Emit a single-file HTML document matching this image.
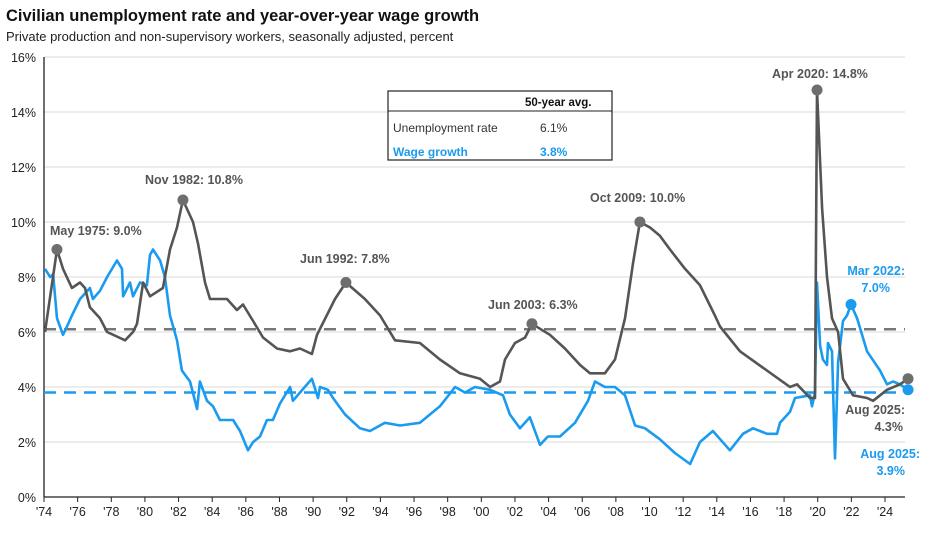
<!DOCTYPE html>
<html><head><meta charset="utf-8"><style>
body{margin:0;background:#fff;font-family:"Liberation Sans",Arial,sans-serif;}
svg text{font-family:"Liberation Sans",Arial,sans-serif;}
</style></head><body>
<svg id="chart" width="936" height="538" viewBox="0 0 936 538" xmlns="http://www.w3.org/2000/svg">
<text x="6" y="21" font-size="16.5" font-weight="bold" fill="#111">Civilian unemployment rate and year-over-year wage growth</text>
<text x="6" y="41" font-size="13" fill="#222">Private production and non-supervisory workers, seasonally adjusted, percent</text>
<g id="grid"></g><g id="axes"></g><g id="series"></g><g id="annot"></g>
<g>
<rect x="388" y="91" width="224" height="69" fill="#fff" stroke="#222" stroke-width="1.2"/>
<text x="525" y="106" font-size="11.5" font-weight="bold" fill="#111">50-year avg.</text>
<line x1="388" y1="111" x2="612" y2="111" stroke="#222" stroke-width="1"/>
<text x="393" y="132" font-size="12" fill="#333">Unemployment rate</text>
<text x="540" y="132" font-size="12" fill="#333">6.1%</text>
<text x="393" y="156" font-size="12" font-weight="bold" fill="#1a9bf0">Wage growth</text>
<text x="540" y="156" font-size="12" font-weight="bold" fill="#1a9bf0">3.8%</text>
</g>
</svg>
<script>
const yTicks=[0,2,4,6,8,10,12,14,16];
const xTickLabels=["'74","'76","'78","'80","'82","'84","'86","'88","'90","'92","'94","'96","'98","'00","'02","'04","'06","'08","'10","'12","'14","'16","'18","'20","'22","'24"];
const unempDates=[1974.06,1974.77,1975.13,1975.66,1976.14,1976.44,1976.73,1977.33,1977.75,1978.82,1979.29,1979.53,1979.89,1980.30,1981.07,1981.49,1981.91,1982.26,1982.86,1983.16,1983.57,1983.87,1984.88,1985.47,1985.83,1986.43,1987.02,1987.85,1988.63,1989.22,1989.93,1990.23,1991.30,1991.95,1993.08,1993.98,1994.87,1996.35,1997.54,1998.73,1999.92,2000.52,2001.11,2001.41,2002.00,2002.60,2003.01,2004.08,2004.97,2005.87,2006.46,2007.35,2007.95,2008.54,2009.02,2009.43,2010.03,2010.62,2011.22,2012.11,2013.00,2013.89,2014.19,2015.38,2016.98,2018.35,2018.77,2019.54,2019.84,2019.96,2020.26,2020.55,2020.85,2021.21,2021.50,2022.10,2022.93,2023.29,2024.12,2024.89,2025.37];
const unempValues=[6.0,9.0,8.3,7.6,7.8,7.6,6.9,6.5,6.0,5.7,6.0,6.3,7.8,7.3,7.6,9.0,9.8,10.8,10.0,9.2,7.8,7.2,7.2,6.8,7.0,6.4,5.8,5.4,5.3,5.4,5.2,5.9,7.2,7.8,7.2,6.6,5.7,5.6,5.0,4.5,4.3,4.0,4.2,5.0,5.6,5.8,6.3,5.9,5.4,4.8,4.5,4.5,5.0,6.5,8.5,10.0,9.8,9.5,9.0,8.3,7.7,6.6,6.2,5.3,4.6,4.0,4.1,3.6,3.6,14.8,10.5,8.0,6.5,6.0,4.3,3.7,3.6,3.5,3.9,4.1,4.3];
const wageDates=[1974.06,1974.36,1974.54,1974.77,1975.13,1975.37,1975.66,1976.14,1976.73,1976.91,1977.33,1977.75,1978.34,1978.64,1978.70,1979.11,1979.29,1979.71,1980.12,1980.30,1980.48,1980.90,1981.19,1981.49,1981.91,1982.20,1982.68,1983.10,1983.27,1983.69,1984.05,1984.46,1985.24,1985.65,1986.13,1986.43,1986.84,1987.26,1987.61,1988.03,1988.63,1988.80,1989.22,1989.93,1990.29,1990.41,1990.88,1991.18,1991.90,1992.79,1993.38,1994.27,1995.17,1996.35,1997.54,1998.44,1999.03,1999.62,2000.52,2001.29,2001.70,2002.30,2002.89,2003.49,2003.96,2004.68,2005.57,2006.34,2006.76,2007.35,2007.95,2008.54,2009.14,2009.73,2010.62,2011.51,2012.41,2013.00,2013.77,2014.78,2015.56,2016.15,2016.99,2017.58,2017.76,2018.35,2018.65,2019.54,2019.66,2019.84,2019.96,2020.14,2020.31,2020.55,2020.61,2020.85,2021.03,2021.21,2021.50,2021.74,2021.98,2022.34,2022.93,2023.70,2024.12,2024.48,2024.89,2025.37];
const wageValues=[8.3,8.0,8.1,6.5,5.9,6.2,6.6,7.2,7.6,7.2,7.5,8.0,8.6,8.3,7.3,7.8,7.3,7.8,7.7,8.8,9.0,8.6,8.0,6.6,5.7,4.6,4.2,3.2,4.2,3.5,3.3,2.8,2.8,2.4,1.7,2.0,2.2,2.8,2.8,3.4,4.0,3.5,3.8,4.3,3.6,4.0,3.9,3.6,3.0,2.5,2.4,2.7,2.6,2.7,3.3,4.0,3.8,4.0,3.9,3.7,3.0,2.5,2.9,1.9,2.2,2.2,2.7,3.5,4.2,4.0,4.0,3.7,2.6,2.5,2.1,1.6,1.2,2.0,2.4,1.7,2.3,2.5,2.3,2.3,2.7,3.1,3.6,3.7,3.3,3.8,7.8,5.5,5.0,4.8,5.6,5.3,1.4,4.9,6.4,6.6,7.0,6.5,5.3,4.6,4.1,4.2,4.1,3.9];
const unempAvg=[6.1];
const wageAvg=[3.8];
const GRAY="#555", BLUE="#1a9bf0";
const X0=44,X1=905,Y0=497,PXY=27.5,PXYR=16.82;
const xs=t=>X0+(t-1974)*PXYR;
const ys=v=>Y0-v*PXY;
const NS="http://www.w3.org/2000/svg";
function mk(tag,attrs,parent){const e=document.createElementNS(NS,tag);for(const k in attrs)e.setAttribute(k,attrs[k]);document.getElementById(parent).appendChild(e);return e;}
yTicks.forEach(v=>{
  if(v>0){const g=mk('line',{x1:X0,x2:X1,y1:ys(v),y2:ys(v),stroke:'#d9d9d9','stroke-width':1},'grid');
  
  }
  const t=mk('text',{x:36,y:ys(v)+5,'text-anchor':'end','font-size':12.5,fill:'#222'},'axes');t.textContent=v+'%';
  
  
});
const ax=mk('line',{x1:X0,x2:X0,y1:ys(16),y2:Y0,stroke:'#222','stroke-width':1.3},'axes');


const bx=mk('line',{x1:X0,x2:X1,y1:Y0,y2:Y0,stroke:'#222','stroke-width':1.3},'axes');


xTickLabels.forEach((l,i)=>{
  const x=xs(1974+2*i);
  mk('line',{x1:x,x2:x,y1:Y0,y2:Y0+5,stroke:'#222','stroke-width':1},'axes');
  const t=mk('text',{x:x,y:Y0+19,'text-anchor':'middle','font-size':12.5,fill:'#222'},'axes');t.textContent=l;
  
  
});
const a1=mk('line',{x1:X0,x2:X1,y1:ys(unempAvg[0]),y2:ys(unempAvg[0]),stroke:'#777','stroke-width':2.5,'stroke-dasharray':'12 8'},'series');


const a2=mk('line',{x1:X0,x2:X1,y1:ys(wageAvg[0]),y2:ys(wageAvg[0]),stroke:BLUE,'stroke-width':2.5,'stroke-dasharray':'12 8'},'series');


function line(d,v,c,name){
  const p=mk('polyline',{points:d.map((t,i)=>xs(t).toFixed(1)+','+ys(v[i]).toFixed(1)).join(' '),fill:'none',stroke:c,'stroke-width':2.6,'stroke-linejoin':'round'},'series');
  
  
}
line(wageDates,wageValues,BLUE,'wage-growth-line');
line(unempDates,unempValues,GRAY,'unemployment-line');
function dot(d,v,i,c){
  const e=mk('circle',{cx:xs(d[i]),cy:ys(v[i]),r:5.5,fill:c},'annot');
  
  
}
[1,17,33,46,55,69,unempDates.length-1].forEach(i=>dot(unempDates,unempValues,i,'#6e6e6e'));
[100,wageDates.length-1].forEach(i=>dot(wageDates,wageValues,i,BLUE));
function lab(x,y,s,c,anchor){
  const t=mk('text',{x:x,y:y,'font-size':12.5,'font-weight':'bold',fill:c,'text-anchor':anchor||'start'},'annot');t.textContent=s;
  
  
}
lab(50,235,'May 1975: 9.0%',GRAY);
lab(145,184,'Nov 1982: 10.8%',GRAY);
lab(300,263,'Jun 1992: 7.8%',GRAY);
lab(488,309,'Jun 2003: 6.3%',GRAY);
lab(590,202,'Oct 2009: 10.0%',GRAY);
lab(772,78,'Apr 2020: 14.8%',GRAY);
lab(905,275,'Mar 2022:',BLUE,'end');
lab(890,292,'7.0%',BLUE,'end');
lab(905,414,'Aug 2025:',GRAY,'end');
lab(903,431,'4.3%',GRAY,'end');
lab(920,458,'Aug 2025:',BLUE,'end');
lab(905,475,'3.9%',BLUE,'end');
</script>
</body></html>
